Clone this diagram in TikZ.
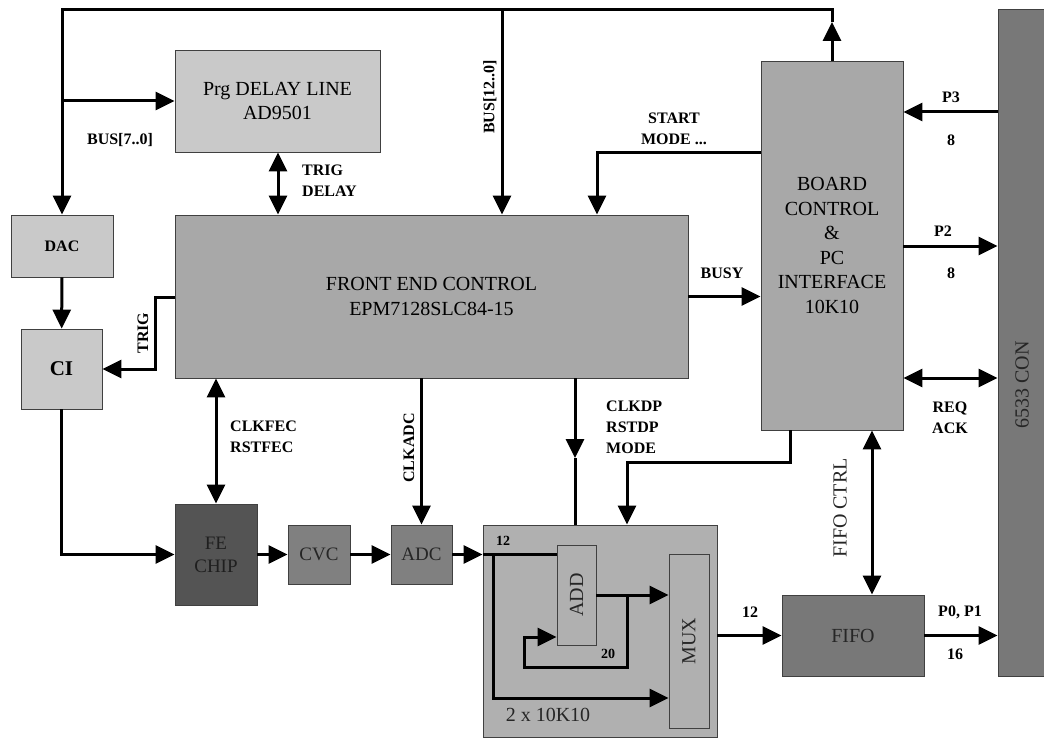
\documentclass[tikz,border=0pt]{standalone}
\usepackage{fontspec}
\setmainfont{Liberation Serif}
\usetikzlibrary{arrows.meta, calc}

\definecolor{boxlight}{gray}{0.79}
\definecolor{boxmid}{gray}{0.66}
\definecolor{boxdp}{gray}{0.69}
\definecolor{boxdark}{gray}{0.47}
\definecolor{boxchip}{gray}{0.33}
\definecolor{boxcvc}{gray}{0.50}

\begin{document}
\begin{tikzpicture}[x=1pt, y=-1pt,
        block/.style={rectangle, draw=black!75, line width=0.8pt, inner sep=0pt, align=center, font=\fontsize{20}{24.5}\selectfont},
        lbl/.style={inner sep=0pt, align=center, font=\bfseries\fontsize{16}{21}\selectfont},
        btxt/.style={inner sep=0pt, align=center, text=black!85, font=\fontsize{20}{24.5}\selectfont},
        arrow/.style={line width=3pt, -{Triangle[length=19pt, width=18pt]}},
        dblarrow/.style={line width=3pt, {Triangle[length=19pt, width=18pt]}-{Triangle[length=19pt, width=18pt]}},
        line/.style={line width=3pt}
    ]
        \useasboundingbox (0,0) rectangle (1044,738);

        % blocks
        \node[block, fill=boxlight, minimum width=205, minimum height=102] (delay) at (277.5, 101) {Prg DELAY LINE\\AD9501};
        \node[block, fill=boxlight, minimum width=102, minimum height=62, font=\bfseries\fontsize{16}{20}\selectfont] (dac) at (62, 246) {DAC};
        \node[block, fill=boxlight, minimum width=81, minimum height=80, font=\bfseries\fontsize{21}{24}\selectfont] (ci) at (61.5, 369) {CI};
        \node[block, fill=boxmid, minimum width=513, minimum height=163] (fec) at (431.5, 296.5) {FRONT END CONTROL\\EPM7128SLC84-15};
        \node[block, fill=boxmid, minimum width=142, minimum height=369] (board) at (832, 245.5) {BOARD\\CONTROL\\\&\\PC\\INTERFACE\\10K10};
        \node[block, fill=boxdark, minimum width=50, minimum height=667] (con) at (1023, 342.5) {};
        \node[block, fill=boxchip, minimum width=82, minimum height=101, text=black!88, font=\fontsize{19}{23}\selectfont] (fechip) at (216, 554.5) {FE\\CHIP};
        \node[block, fill=boxcvc, minimum width=62, minimum height=59, text=black!85, font=\fontsize{19}{23}\selectfont] (cvc) at (319, 554.5) {CVC};
        \node[block, fill=boxcvc, minimum width=61, minimum height=59, text=black!85, font=\fontsize{19}{23}\selectfont] (adc) at (421.5, 554.5) {ADC};
        \node[block, fill=boxdp, minimum width=234, minimum height=212] (dp) at (600, 631) {};
        \node[block, fill=boxdp, minimum width=39, minimum height=100] (add) at (576.5, 595) {};
        \node[block, fill=boxdp, minimum width=40, minimum height=174] (mux) at (689, 641) {};
        \node[block, fill=boxdark, minimum width=142, minimum height=81, text=black!85] (fifo) at (853, 635.5) {FIFO};

        % rotated box texts
        \node[btxt, rotate=90] (contxt) at (1022, 385) {6533 CON};
        \node[btxt, rotate=90] (addtxt) at (add.center) {ADD};
        \node[btxt, rotate=90] (muxtxt) at (mux.center) {MUX};
        \node[btxt] (dptxt) at (548, 715) {2 x 10K10};

        % bend points
        \coordinate (busTL) at (62, 10);
        \coordinate (busTR) at (832, 10);
        \coordinate (busMid) at (502, 10);
        \coordinate (busUp) at (832, 22);
        \coordinate (trigA) at (155, 297);
        \coordinate (dpA) at (575, 458);
        \coordinate (bdA) at (790, 462);
        \coordinate (bdB) at (627, 462);
        \coordinate (stA) at (597, 153);
        \coordinate (pThree) at (950, 112);
        \coordinate (pTwo) at (950, 246);
        \coordinate (req) at (950, 378);
        \coordinate (fctrl) at (872, 500);
        \coordinate (in) at (493, 554.5);
        \coordinate (lo) at (493, 698);
        \coordinate (fbA) at (627, 595);
        \coordinate (fbB) at (627, 667);
        \coordinate (fbC) at (524, 667);
        \coordinate (fbD) at (524, 637);

        % bus
        \draw[arrow] (board.north) -- (busUp);
        \draw[arrow] (busUp) -- (busTR) -- (busTL) -- (dac.north);
        \draw[arrow] (busTL |- delay.west) -- (delay.west);
        \draw[arrow] (busMid) -- (busMid |- fec.north);

        % left side
        \draw[dblarrow] (delay.south -| 278,0) -- (fec.north -| 278,0);
        \draw[arrow] (dac) -- (ci);
        \draw[arrow] (trigA -| fec.west) -- (trigA) |- (ci.east);
        \draw[arrow] (ci.south) |- (fechip.west);
        \draw[dblarrow] (fechip.north |- fec.south) -- (fechip.north);
        \draw[arrow] (adc.north |- fec.south) -- (adc.north);
        \draw[arrow] (fechip) -- (cvc);
        \draw[arrow] (cvc) -- (adc);
        \draw[arrow] (adc) -- (adc -| dp.west);

        % control lines
        \draw[arrow] (fec.south -| dpA) -- (dpA);
        \draw[line] (dpA) -- (dpA |- dp.north);
        \draw[arrow] (board.south -| bdA) -- (bdA) -- (bdB) -- (bdB |- dp.north);
        \draw[arrow] (fec.east) -- (fec.east -| board.west);
        \draw[arrow] (stA -| board.west) -- (stA) -- (stA |- fec.north);

        % PC side
        \draw[arrow] (pThree -| con.west) -- (pThree -| board.east);
        \draw[arrow] (pTwo -| board.east) -- (pTwo -| con.west);
        \draw[dblarrow] (req -| board.east) -- (req -| con.west);
        \draw[dblarrow] (fctrl |- board.south) -- (fctrl |- fifo.north);
        \draw[arrow] (fifo.west -| dp.east) -- (fifo.west);
        \draw[arrow] (fifo.east) -- (fifo.east -| con.west);

        % inside 2 x 10K10
        \draw[line] (adc.east -| dp.west) -- (in -| add.west);
        \draw[arrow] (in) -- (lo) -- (lo -| mux.west);
        \draw[arrow] (add.east) -- (add.east -| mux.west);
        \draw[arrow] (fbA) -- (fbB) -- (fbC) -- (fbD) -- (fbD -| add.west);

        % labels
        \node[lbl] (lbus) at (120, 140) {BUS[7..0]};
        \node[lbl, rotate=90] (lbusb) at (490, 97) {BUS[12..0]};
        \node[lbl, anchor=west, align=left] (ltrigd) at (302, 181) {TRIG\\DELAY};
        \node[lbl, rotate=90] (ltrig) at (143, 333) {TRIG};
        \node[lbl, anchor=west, align=left] (lclkfec) at (230, 437) {CLKFEC\\RSTFEC};
        \node[lbl, rotate=90] (lclkadc) at (409, 448) {CLKADC};
        \node[lbl, anchor=west, align=left] (lclkdp) at (606, 427) {CLKDP\\RSTDP\\MODE};
        \node[lbl] (lbusy) at (722, 273) {BUSY};
        \node[lbl] (lstart) at (674, 129) {START\\MODE ...};
        \node[lbl] (lpthree) at (951, 97) {P3};
        \node[lbl] (lpthreen) at (951, 140) {8};
        \node[lbl] (lptwo) at (943, 231) {P2};
        \node[lbl] (lptwon) at (951, 273) {8};
        \node[lbl] (lreq) at (950, 418) {REQ\\ACK};
        \node[btxt, rotate=90] (lfctrl) at (840, 508) {FIFO CTRL};
        \node[lbl] (lmux) at (750, 612) {12};
        \node[lbl] (lpzero) at (960, 612) {P0, P1};
        \node[lbl] (lpzeron) at (955, 654) {16};
        \node[lbl, font=\bfseries\fontsize{14}{18}\selectfont] (lin) at (503, 541) {12};
        \node[lbl, font=\bfseries\fontsize{14}{18}\selectfont] (lfb) at (608, 654) {20};
\end{tikzpicture}
\end{document}
